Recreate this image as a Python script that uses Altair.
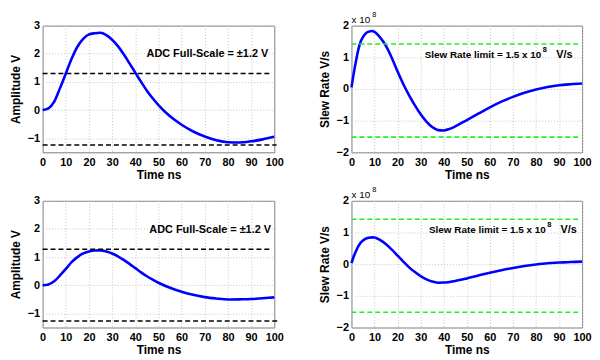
import altair as alt
import pandas as pd

# ---- data ----
x_ticks = [0, 10, 20, 30, 40, 50, 60, 70, 80, 90, 100]
amp_ticks = [-1, 0, 1, 2, 3]
slew_ticks = [-2, -1, 0, 1, 2]

t_amp = [0, 2.5, 5, 7.5, 10, 12.5, 15, 17.5, 20, 22.5, 25, 27.5, 30, 32.5, 35,
         37.5, 40, 42.5, 45, 47.5, 50, 55, 60, 65, 70, 75, 80, 85, 90, 95, 100]
amp_top = [0, 0.06, 0.3, 0.78, 1.3, 1.82, 2.25, 2.53, 2.69, 2.73, 2.745, 2.66, 2.5,
           2.27, 1.98, 1.66, 1.33, 1.0, 0.69, 0.42, 0.18, -0.22, -0.52, -0.76,
           -0.94, -1.07, -1.14, -1.15, -1.11, -1.04, -0.95]
amp_bot = [0, 0.03, 0.14, 0.35, 0.58, 0.82, 1.0, 1.13, 1.2, 1.235, 1.24, 1.2, 1.13,
           1.03, 0.9, 0.76, 0.61, 0.46, 0.32, 0.2, 0.09, -0.09, -0.23, -0.34,
           -0.42, -0.47, -0.505, -0.5, -0.49, -0.46, -0.43]

t_slew = [0, 1, 2, 3, 4, 5, 6, 7.5, 9, 10, 12.5, 15, 17.5, 20, 22.5, 25, 27.5, 30,
          32.5, 35, 37.5, 40, 42.5, 45, 50, 55, 60, 65, 70, 75, 80, 85, 90, 95, 100]
# slew rate in units of 1e8 V/s
slew_top = [0.05, 0.5, 0.9, 1.25, 1.5, 1.64, 1.74, 1.81, 1.83, 1.8, 1.62, 1.35, 0.98,
            0.55, 0.15, -0.2, -0.52, -0.8, -1.03, -1.2, -1.3, -1.31, -1.26, -1.18,
            -0.98, -0.78, -0.58, -0.4, -0.25, -0.12, -0.02, 0.06, 0.12, 0.15, 0.17]
slew_bot = [0.03, 0.25, 0.42, 0.57, 0.68, 0.75, 0.8, 0.835, 0.845, 0.84, 0.76, 0.63,
            0.46, 0.27, 0.08, -0.1, -0.25, -0.38, -0.48, -0.55, -0.585, -0.58, -0.56,
            -0.53, -0.45, -0.36, -0.27, -0.19, -0.12, -0.06, -0.01, 0.03, 0.05, 0.07, 0.08]

# limit lines: level, start, end
adc_top_levels = [1.3, -1.24]
adc_top_ends = [98.6, 101]
adc_bot_levels = [1.28, -1.27]
adc_bot_ends = [99, 101.5]
slew_levels = [1.42, -1.52]
slew_ends = [98.9, 98.9]

adc_label = "ADC Full-Scale = \u00b11.2 V"
slew_label = "Slew Rate limit = 1.5 x 10"
slew_exp = "8"
slew_unit = "V/s"

FONT = "Liberation Sans"


def panel(t, v, ydom, yticks, ytitle, levels, ends, line_color, texts, exp_label, width):
    xs = alt.Scale(domain=[0, 100], nice=False, zero=False)
    ys = alt.Scale(domain=ydom, nice=False, zero=False)
    xaxis = alt.Axis(values=x_ticks, title="Time ns")
    yaxis = alt.Axis(values=yticks, title=ytitle)

    def enc(chart, **extra):
        return chart.encode(
            x=alt.X("t:Q", scale=xs, axis=xaxis),
            y=alt.Y("v:Q", scale=ys, axis=yaxis),
            **extra,
        )

    df = pd.DataFrame({"t": t, "v": v})
    curve = enc(alt.Chart(df).mark_line(
        color="#0000ff", strokeWidth=2.6, interpolate="monotone"))
    ldf = pd.DataFrame({"v": levels, "t": [0] * len(levels), "t2": ends})
    rules = enc(alt.Chart(ldf).mark_rule(
        color=line_color, strokeWidth=1.6, strokeDash=[5, 3]), x2="t2:Q")
    layers = [curve, rules]
    for tx in texts:
        tdf = pd.DataFrame({"t": [tx["x"]], "v": [tx["y"]], "label": [tx["label"]]})
        layers.append(enc(alt.Chart(tdf).mark_text(
            align=tx["align"], baseline="middle", font=FONT,
            fontSize=tx["size"], fontWeight=tx.get("weight", "bold"),
            dx=tx.get("dx", 0), dy=tx.get("dy", 0), color="black",
        ), text="label:N"))
    if exp_label:
        for lab, dx, dy, size in [("x 10", 0, -6, 10), ("8", 21, -11, 7.5)]:
            edf = pd.DataFrame({"t": [0], "v": [ydom[1]], "label": [lab]})
            layers.append(enc(alt.Chart(edf).mark_text(
                align="left", baseline="middle", font=FONT, fontSize=size,
                dx=dx, dy=dy, color="black",
            ), text="label:N"))
    return alt.layer(*layers).properties(width=width, height=128)


def slew_texts(anchor, y, unit_center):
    return [
        {"x": anchor, "y": y, "label": slew_label, "align": "right", "size": 10},
        {"x": anchor, "y": y, "label": slew_exp, "align": "left", "size": 7.5, "dx": 1.5, "dy": -5},
        {"x": unit_center, "y": y, "label": slew_unit, "align": "center", "size": 11},
    ]


tl = panel(t_amp, amp_top, [-1.5, 3], amp_ticks, "Amplitude V",
           adc_top_levels, adc_top_ends, "black",
           [{"x": 97.4, "y": 2.0, "label": adc_label, "align": "right", "size": 11}],
           False, 234)
tr = panel(t_slew, slew_top, [-2, 2], slew_ticks, "Slew Rate V/s",
           slew_levels, slew_ends, "#22ee22", slew_texts(82.3, 1.06, 92.3), True, 233)
bl = panel(t_amp, amp_bot, [-1.5, 3], amp_ticks, "Amplitude V",
           adc_bot_levels, adc_bot_ends, "black",
           [{"x": 98.6, "y": 1.95, "label": adc_label, "align": "right", "size": 11}],
           False, 234)
br = panel(t_slew, slew_bot, [-2, 2], slew_ticks, "Slew Rate V/s",
           slew_levels, slew_ends, "#22ee22", slew_texts(84.2, 1.07, 94.2), True, 233)

chart = alt.vconcat(
    alt.hconcat(tl, tr, spacing=33),
    alt.hconcat(bl, br, spacing=33),
    spacing=4,
).properties(
    padding=0
).configure_view(
    stroke="#7a7a7a", strokeWidth=1
).configure_axis(
    labelFont=FONT, labelFontSize=11, labelFontWeight="bold", labelColor="black",
    titleFont=FONT, titleFontSize=12, titleFontWeight="bold", titleColor="black",
    grid=True, gridColor="#c4c4c4", gridDash=[1, 2], gridWidth=1,
    domain=False, ticks=False, labelFlush=False, labelOverlap=False,
).configure_axisX(
    labelPadding=4, titlePadding=2,
).configure_axisY(
    labelPadding=3, titlePadding=5,
)

chart.save("out.html", embed_options={"renderer": "svg", "actions": False})
